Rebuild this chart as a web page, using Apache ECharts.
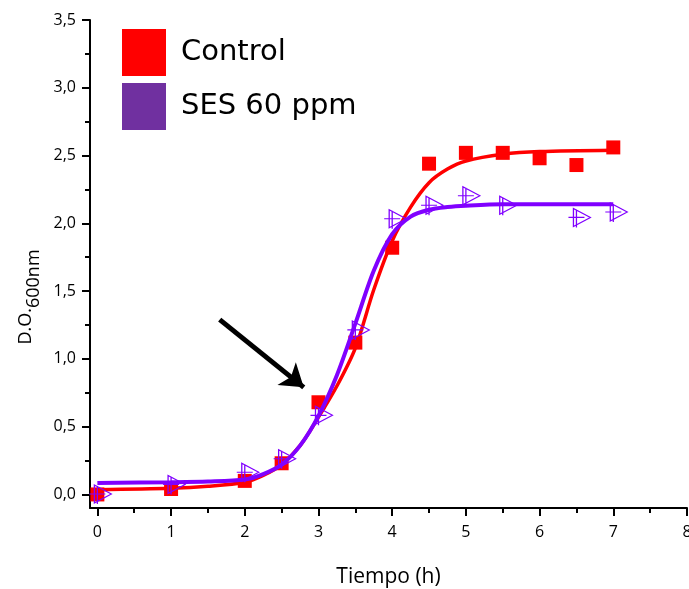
<!DOCTYPE html>
<html>
<head>
<meta charset="utf-8">
<script src="https://cdn.jsdelivr.net/npm/echarts@6/dist/echarts.min.js"></script>
<style>
  html, body { margin: 0; padding: 0; background: #fff; }
  #chart { width: 689px; height: 589px; }
</style>
</head>
<body>
<div id="chart"></div>
<script>
// puntos medidos
var tiempo = [0, 1, 2, 2.5, 3, 3.5, 4, 4.5, 5, 5.5, 6, 6.5, 7];
var control = [0.0, 0.04, 0.1, 0.23, 0.68, 1.12, 1.82, 2.44, 2.52, 2.52, 2.48, 2.43, 2.56];
var sesX = [0, 1, 2, 2.5, 3, 3.5, 4, 4.5, 5, 5.5, 6.5, 7];
var ses = [0.0, 0.07, 0.16, 0.26, 0.58, 1.21, 2.03, 2.13, 2.2, 2.13, 2.04, 2.08];

// curvas de ajuste
var ajusteX = [0, 1, 1.5, 2, 2.25, 2.5, 2.75, 3, 3.25, 3.5, 3.75, 4, 4.25, 4.5, 4.75, 5, 5.5, 6, 7];
var ajusteControl = [0.035, 0.045, 0.06, 0.09, 0.14, 0.22, 0.36, 0.57, 0.8, 1.08, 1.51, 1.87, 2.12, 2.3, 2.4, 2.46, 2.51, 2.53, 2.54];
var ajusteSes = [0.085, 0.09, 0.095, 0.11, 0.15, 0.22, 0.36, 0.58, 0.88, 1.26, 1.65, 1.92, 2.05, 2.1, 2.12, 2.13, 2.14, 2.14, 2.14];

// flecha (inicio, fin)
var flecha = [[1.66, 1.29], [2.8, 0.79]];

var xTicks = [0, 1, 2, 3, 4, 5, 6, 7, 8];
var xMinor = [0.5, 1.5, 2.5, 3.5, 4.5, 5.5, 6.5, 7.5];
var yTicks = [0, 0.5, 1, 1.5, 2, 2.5, 3, 3.5];
var yMinor = [0.25, 0.75, 1.25, 1.75, 2.25, 2.75, 3.25];

function pares(xs, ys) {
  return xs.map(function (x, i) { return [x, ys[i]]; });
}

var myChart = echarts.init(document.getElementById('chart'));
var ejeLinea = { onZero: false, lineStyle: { color: '#000', width: 2 } };
var option = {
  animation: false,
  grid: { left: 90, right: 2, top: 20, bottom: 81, containLabel: false, outerBoundsMode: 'none' },
  legend: {
    orient: 'vertical',
    left: 117,
    top: 24,
    itemWidth: 44,
    itemHeight: 47,
    itemGap: 7,
    icon: 'rect',
    selectedMode: false,
    textStyle: { fontFamily: 'DejaVu Sans', fontSize: 29, color: '#000', padding: [5, 0, 0, 10] },
    data: [
      { name: 'Control', itemStyle: { color: '#ff0000' } },
      { name: 'SES 60 ppm', itemStyle: { color: '#7030a0', borderWidth: 0 } }
    ]
  },
  xAxis: [{
    type: 'value', min: -0.1, max: 8,
    name: 'Tiempo (h)', nameLocation: 'middle', nameGap: 59,
    nameTextStyle: { fontFamily: 'Open Sans', fontSize: 21, color: '#000' },
    axisLine: ejeLinea,
    splitLine: { show: false },
    axisTick: { customValues: xTicks, length: 8, lineStyle: { color: '#000', width: 2 } },
    axisLabel: { customValues: xTicks, margin: 16, fontFamily: 'Open Sans', fontSize: 16, color: '#000' }
  }, {
    type: 'value', min: -0.1, max: 8, position: 'bottom',
    axisLine: { show: false, onZero: false },
    splitLine: { show: false },
    axisTick: { customValues: xMinor, length: 5, lineStyle: { color: '#000', width: 2 } },
    axisLabel: { show: false }
  }],
  yAxis: [{
    type: 'value', min: -0.1, max: 3.5,
    name: '{a|D.O.}{b|600nm}', nameLocation: 'middle', nameGap: 52,
    nameTextStyle: {
      padding: [0, 66, 0, 0],
      rich: {
        a: { fontFamily: 'Open Sans', fontSize: 18, color: '#000', lineHeight: 18, verticalAlign: 'top' },
        b: { fontFamily: 'Open Sans', fontSize: 18, color: '#000', lineHeight: 18, verticalAlign: 'top', padding: [8, 0, 0, 0] }
      }
    },
    axisLine: ejeLinea,
    splitLine: { show: false },
    axisTick: { customValues: yTicks, length: 8, lineStyle: { color: '#000', width: 2 } },
    axisLabel: {
      customValues: yTicks, margin: 14, fontFamily: 'Open Sans', fontSize: 16, color: '#000',
      formatter: function (v) { return v.toFixed(1).replace('.', ','); }
    }
  }, {
    type: 'value', min: -0.1, max: 3.5, position: 'left',
    axisLine: { show: false, onZero: false },
    splitLine: { show: false },
    axisTick: { customValues: yMinor, length: 5, lineStyle: { color: '#000', width: 2 } },
    axisLabel: { show: false }
  }],
  series: [
    {
      name: 'Control', type: 'scatter',
      symbol: 'rect', symbolSize: 14,
      itemStyle: { color: '#ff0000', opacity: 1 },
      data: pares(tiempo, control), z: 2
    },
    {
      name: 'Control ajuste', type: 'line',
      data: pares(ajusteX, ajusteControl),
      smooth: 0.3, showSymbol: false,
      lineStyle: { color: '#ff0000', width: 3.5 }, z: 3
    },
    {
      name: 'SES 60 ppm', type: 'scatter',
      symbol: 'path://M5,1 L22,10 L5,19 Z M0,10 L16,10 M8,2 L8,20',
      symbolSize: [22, 19], symbolOffset: [3, 0],
      itemStyle: { color: 'rgba(0,0,0,0)', borderColor: '#8000ff', borderWidth: 1.2, opacity: 1 },
      data: pares(sesX, ses), z: 5
    },
    {
      name: 'SES ajuste', type: 'line',
      data: pares(ajusteX, ajusteSes),
      smooth: 0.3, showSymbol: false,
      lineStyle: { color: '#8000ff', width: 4 }, z: 4
    },
    {
      name: 'flecha', type: 'lines', coordinateSystem: 'cartesian2d',
      symbol: ['none', 'arrow'], symbolSize: 22,
      lineStyle: { color: '#000', width: 5, opacity: 1 },
      data: [{ coords: flecha }], z: 6
    }
  ]
};
myChart.setOption(option);
</script>
</body>
</html>
